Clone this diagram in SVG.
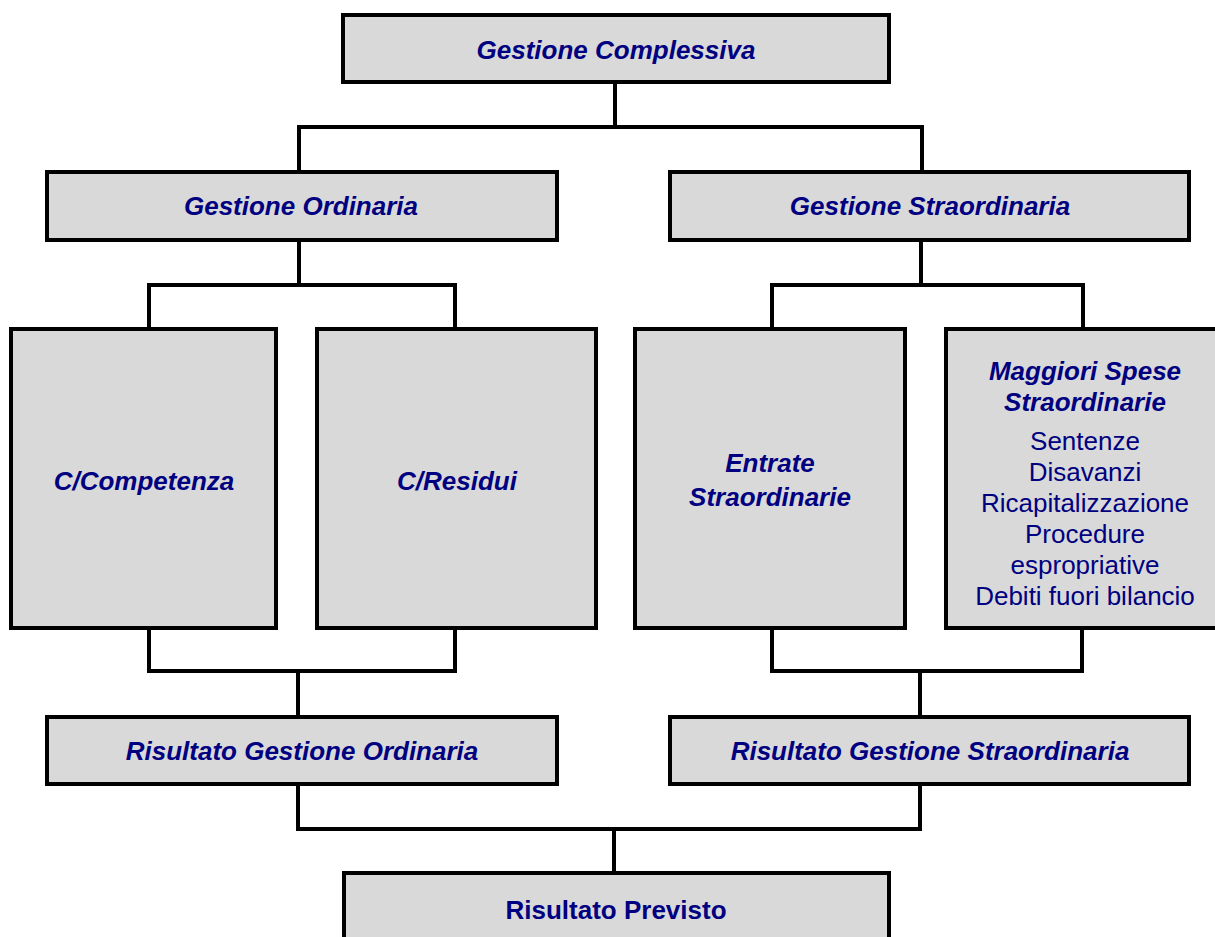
<svg xmlns="http://www.w3.org/2000/svg" width="1215" height="937" viewBox="0 0 1215 937">
<style>
.box{fill:#d9d9d9;stroke:#000;stroke-width:4}
.con{fill:none;stroke:#000;stroke-width:4;stroke-linejoin:miter}
.t{font-family:"Liberation Sans",Arial,sans-serif;font-size:26px;fill:#000080;text-anchor:middle}
.bi{font-weight:bold;font-style:italic}
.b{font-weight:bold}
</style>
<rect width="1215" height="937" fill="#fff"/>
<g id="connectors">
<path class="con" d="M615,82V127M299,172V127H922V172"/>
<path class="con" d="M299,240V285M149,328V285H455V328"/>
<path class="con" d="M921,240V285M772,328V285H1083V328"/>
<path class="con" d="M149,628V671H455V628M298,671V717"/>
<path class="con" d="M772,628V671H1082V628M920,671V717"/>
<path class="con" d="M298,784V829H920V784M614,829V873"/>
</g>
<g id="gestione-complessiva">
<rect class="box" x="343" y="15" width="546" height="67"/>
<text class="t bi" x="616" y="59">Gestione Complessiva</text>
</g>
<g id="gestione-ordinaria">
<rect class="box" x="47" y="172" width="510" height="68"/>
<text class="t bi" x="301" y="215">Gestione Ordinaria</text>
</g>
<g id="gestione-straordinaria">
<rect class="box" x="670" y="172" width="519" height="68"/>
<text class="t bi" x="930" y="215">Gestione Straordinaria</text>
</g>
<g id="c-competenza">
<rect class="box" x="11" y="329" width="265" height="299"/>
<text class="t bi" x="144" y="490">C/Competenza</text>
</g>
<g id="c-residui">
<rect class="box" x="317" y="329" width="279" height="299"/>
<text class="t bi" x="457" y="490">C/Residui</text>
</g>
<g id="entrate-straordinarie">
<rect class="box" x="635" y="329" width="270" height="299"/>
<text class="t bi" x="770" y="472">Entrate</text>
<text class="t bi" x="770" y="506">Straordinarie</text>
</g>
<g id="maggiori-spese">
<rect class="box" x="946" y="329" width="280" height="299"/>
<text class="t bi" x="1085" y="380">Maggiori Spese</text>
<text class="t bi" x="1085" y="411">Straordinarie</text>
<text class="t" x="1085" y="450">Sentenze</text>
<text class="t" x="1085" y="481">Disavanzi</text>
<text class="t" x="1085" y="512">Ricapitalizzazione</text>
<text class="t" x="1085" y="543">Procedure</text>
<text class="t" x="1085" y="574">espropriative</text>
<text class="t" x="1085" y="605">Debiti fuori bilancio</text>
</g>
<g id="risultato-ordinaria">
<rect class="box" x="47" y="717" width="510" height="67"/>
<text class="t bi" x="302" y="760">Risultato Gestione Ordinaria</text>
</g>
<g id="risultato-straordinaria">
<rect class="box" x="670" y="717" width="519" height="67"/>
<text class="t bi" x="930" y="760">Risultato Gestione Straordinaria</text>
</g>
<g id="risultato-previsto">
<rect class="box" x="344" y="873" width="545" height="80"/>
<text class="t b" x="616" y="919">Risultato Previsto</text>
</g>
</svg>
